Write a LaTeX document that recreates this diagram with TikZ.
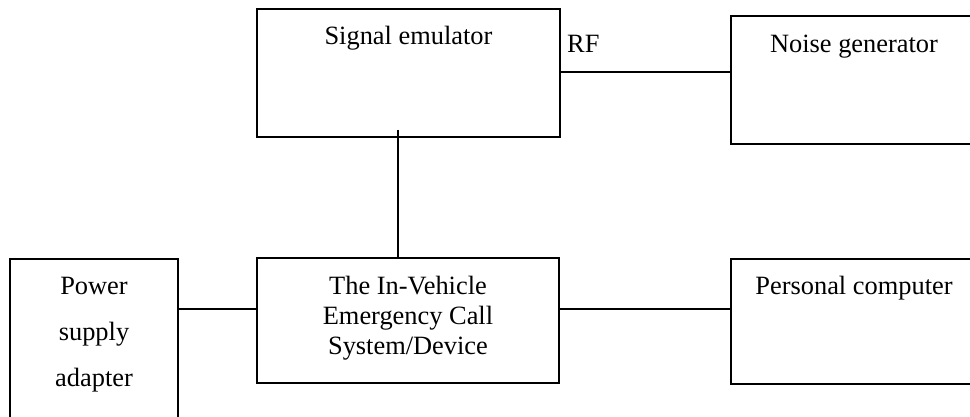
\documentclass[tikz,border=0pt]{standalone}
\usepackage{fontspec}
\setmainfont{Liberation Serif}
\begin{document}
\begin{tikzpicture}[x=1pt,y=-1pt,
  box/.style={draw, line width=1.4pt, rectangle, inner sep=0pt, outer sep=0pt},
  lbl/.style={font=\fontsize{26.4}{30}\selectfont, inner sep=0pt, anchor=base, align=center},
  conn/.style={line width=1.4pt}]
\clip (0,0) rectangle (970,416);
% boxes
\node[box, minimum width=303pt, minimum height=128pt] (se) at (408.5,73) {};
\node[box, minimum width=246pt, minimum height=128pt] (ng) at (854,80) {};
\node[box, minimum width=168pt, minimum height=171pt] (ps) at (94,344.5) {};
\node[box, minimum width=302pt, minimum height=125pt] (ce) at (408,320.5) {};
\node[box, minimum width=246pt, minimum height=125pt] (pc) at (854,321.5) {};
% texts (anchor base = baseline of last line)
\node[lbl] (set) at ([yshift=-35pt]se.north) {Signal emulator};
\node[lbl] (ngt) at ([yshift=-36pt]ng.north) {Noise generator};
\node[lbl, font=\fontsize{26.4}{46}\selectfont] (pst) at ([yshift=-127pt]ps.north) {Power\\supply\\adapter};
\node[lbl] (cet) at ([yshift=-96pt]ce.north) {The In-Vehicle\\Emergency Call\\System/Device};
\node[lbl] (pct) at ([yshift=-35pt]pc.north) {Personal computer};
\node[lbl, anchor=base west] (rf) at (567,52) {RF};
% connectors
\draw[conn] ([yshift=1pt]se.east) -- ([yshift=1pt]se.east -| ng.west);
\coordinate (vtop) at (398,130);
\draw[conn] (vtop) -- (vtop |- ce.north);
\draw[conn] ([yshift=-50pt]ps.north east) -- ([yshift=-50pt]ps.north east -| ce.west);
\draw[conn] ([yshift=-51pt]ce.north east) -- ([yshift=-51pt]ce.north east -| pc.west);
\end{tikzpicture}
\end{document}
